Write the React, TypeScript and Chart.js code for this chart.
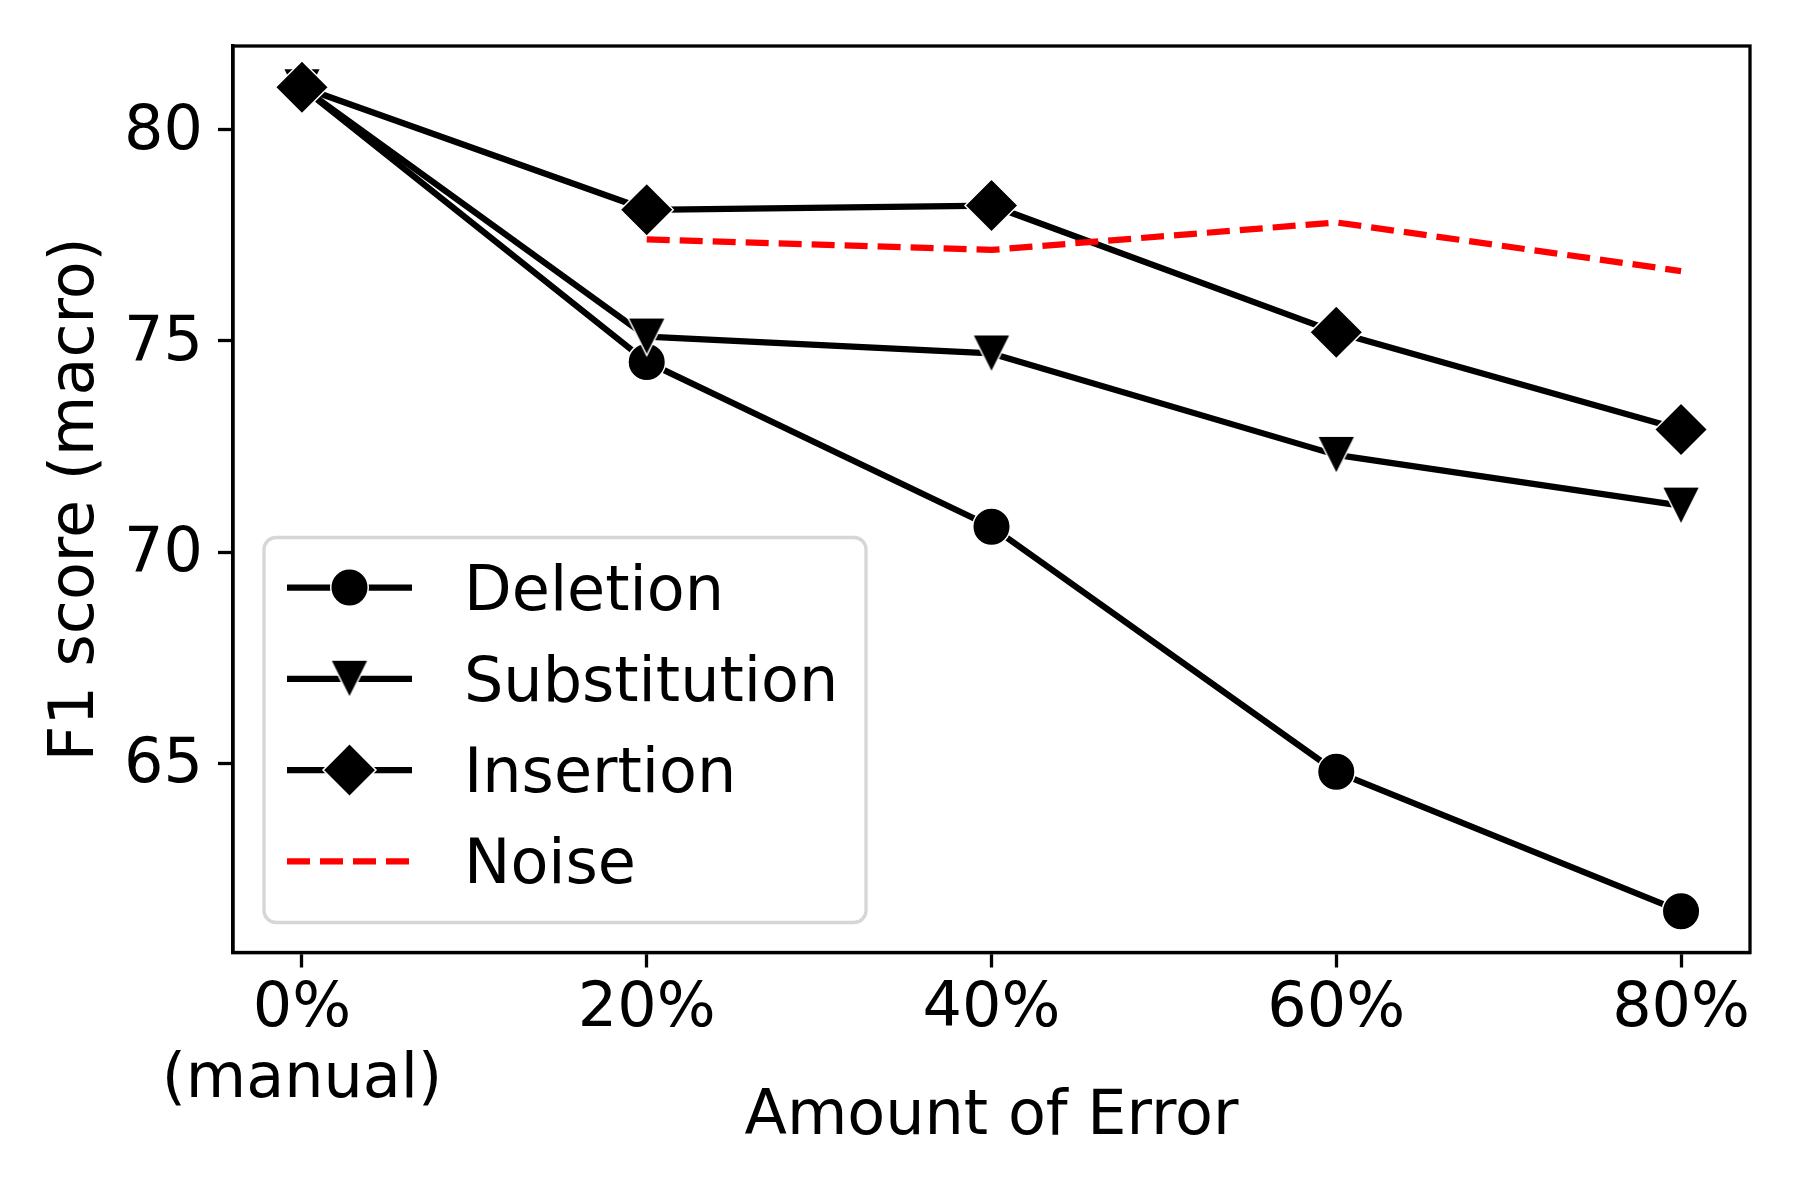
import React, { useEffect, useRef } from "react";
import { Chart, registerables } from "chart.js";
import { drawPoint } from "chart.js/helpers";

Chart.register(...registerables);

const errorLevels = [0, 20, 40, 60, 80];
const xTickLabels: (string | string[])[] = [["0%", "(manual)"], "20%", "40%", "60%", "80%"];
const yTickValues = [65, 70, 75, 80];

const deletion = [81.0, 74.5, 70.6, 64.8, 61.5];
const substitution = [81.0, 75.1, 74.7, 72.3, 71.1];
const insertion = [81.0, 78.1, 78.2, 75.2, 72.9];
const noise = [null, 77.4, 77.15, 77.8, 76.65];

const seriesLabels = ["Deletion", "Substitution", "Insertion", "Noise"];

const FONT = "'DejaVu Sans', sans-serif";
const LINE_W = 6.25;
const MARKER = 37.5;

// matplotlib-ish 5% margins round the data
function padded(values: number[]): { min: number; max: number } {
  const lo = Math.min(...values);
  const hi = Math.max(...values);
  const pad = (hi - lo) * 0.05;
  return { min: lo - pad, max: hi + pad };
}

function makeTriangleDown(size: number, edge: number): HTMLCanvasElement {
  const c = document.createElement("canvas");
  c.width = c.height = Math.ceil(size + 10);
  const ctx = c.getContext("2d")!;
  const m = c.width / 2;
  const h = size / 2;
  ctx.beginPath();
  ctx.moveTo(m - h, m - h);
  ctx.lineTo(m + h, m - h);
  ctx.lineTo(m, m + h);
  ctx.closePath();
  ctx.fillStyle = "#000";
  ctx.fill();
  ctx.lineWidth = edge;
  ctx.lineJoin = "miter";
  ctx.strokeStyle = "#fff";
  ctx.stroke();
  return c;
}

const frameAndLegend = {
  id: "frameAndLegend",
  afterDatasetsDraw(chart: Chart) {
    const { ctx, chartArea: a } = chart;
    ctx.save();
    ctx.strokeStyle = "#000";
    ctx.lineWidth = 3.3;
    ctx.setLineDash([]);
    ctx.strokeRect(a.left, a.top, a.right - a.left, a.bottom - a.top);

    const bw = 602;
    const bh = 385;
    const bx = a.left + 31;
    const by = a.bottom - 30 - bh;
    ctx.beginPath();
    ctx.roundRect(bx, by, bw, bh, 12);
    ctx.fillStyle = "rgba(255,255,255,0.8)";
    ctx.fill();
    ctx.strokeStyle = "rgba(204,204,204,0.8)";
    ctx.lineWidth = 3.3;
    ctx.stroke();

    chart.data.datasets.forEach((ds: any, i: number) => {
      const y = by + 50 + i * 91.3;
      const x0 = bx + 23;
      const x1 = bx + 148;
      ctx.beginPath();
      ctx.setLineDash(ds.borderDash || []);
      ctx.lineWidth = ds.borderWidth;
      ctx.strokeStyle = ds.borderColor;
      ctx.moveTo(x0, y);
      ctx.lineTo(x1, y);
      ctx.stroke();
      ctx.setLineDash([]);
      if (ds.pointRadius > 0) {
        ctx.fillStyle = "#000";
        ctx.strokeStyle = "#fff";
        ctx.lineWidth = ds.pointBorderWidth;
        drawPoint(ctx, { pointStyle: ds.pointStyle, radius: ds.pointRadius, borderWidth: ds.pointBorderWidth, rotation: 0 } as any, (x0 + x1) / 2, y);
      }
      ctx.fillStyle = "#000";
      ctx.font = `62px ${FONT}`;
      ctx.textAlign = "left";
      ctx.textBaseline = "alphabetic";
      ctx.fillText(seriesLabels[i], bx + 200, y + 22);
    });
    ctx.restore();
  },
};

export default function App(): React.ReactElement {
  const canvasRef = useRef<HTMLCanvasElement | null>(null);

  useEffect(() => {
    if (!canvasRef.current) return;
    const ctx = canvasRef.current.getContext("2d");
    if (!ctx) return;

    const triangle = makeTriangleDown(MARKER, 1.5);
    const xr = padded(errorLevels);
    const yr = padded([...deletion, ...substitution, ...insertion, ...(noise.filter((v) => v != null) as number[])]);
    const tickFont = { family: FONT, size: 62, lineHeight: 1.16 };
    const toPoints = (vals: (number | null)[]) => vals.map((v, i) => ({ x: errorLevels[i], y: v }));

    const chart = new Chart(ctx, {
      type: "line",
      data: {
        datasets: [
          {
            label: seriesLabels[0],
            data: toPoints(deletion),
            borderColor: "#000",
            backgroundColor: "#000",
            borderWidth: LINE_W,
            pointStyle: "circle",
            pointRadius: MARKER / 2,
            pointBorderColor: "#fff",
            pointBorderWidth: 1.5,
            order: 3,
          },
          {
            label: seriesLabels[1],
            data: toPoints(substitution),
            borderColor: "#000",
            backgroundColor: "#000",
            borderWidth: LINE_W,
            pointStyle: triangle,
            pointRadius: MARKER / 2,
            pointBorderWidth: 0,
            order: 2,
          },
          {
            label: seriesLabels[2],
            data: toPoints(insertion),
            borderColor: "#000",
            backgroundColor: "#000",
            borderWidth: LINE_W,
            pointStyle: "rectRot",
            pointRadius: (MARKER * Math.SQRT2) / 2,
            pointBorderColor: "#fff",
            pointBorderWidth: 1.5,
            order: 1,
          },
          {
            label: seriesLabels[3],
            data: toPoints(noise),
            borderColor: "#ff0000",
            backgroundColor: "#ff0000",
            borderWidth: LINE_W,
            borderDash: [23, 10],
            pointRadius: 0,
            order: 0,
          },
        ] as any,
      },
      options: {
        responsive: false,
        animation: false,
        parsing: false,
        layout: { padding: { top: 46, right: 50, left: 0, bottom: 0 } },
        elements: { line: { tension: 0, borderJoinStyle: "round" } },
        plugins: { legend: { display: false }, tooltip: { enabled: false } },
        scales: {
          x: {
            type: "linear",
            min: xr.min,
            max: xr.max,
            afterBuildTicks: (s: any) => {
              s.ticks = errorLevels.map((v) => ({ value: v }));
            },
            afterFit: (s: any) => {
              s.height = 247.5;
            },
            ticks: {
              callback: (v: any) => xTickLabels[errorLevels.indexOf(Number(v))] ?? "",
              font: tickFont,
              color: "#000",
              padding: 6,
              autoSkip: false,
              maxRotation: 0,
            },
            grid: { display: true, drawOnChartArea: false, drawTicks: true, tickLength: 15, tickWidth: 3.3, tickColor: "#000" },
            border: { display: true, color: "#000", width: 3.3 },
            title: {
              display: true,
              text: "Amount of Error",
              color: "#000",
              font: { family: FONT, size: 62 },
              padding: { top: 0, bottom: 45 },
            },
          },
          y: {
            type: "linear",
            min: yr.min,
            max: yr.max,
            afterBuildTicks: (s: any) => {
              s.ticks = yTickValues.map((v) => ({ value: v }));
            },
            afterFit: (s: any) => {
              s.width = 233;
            },
            ticks: {
              callback: (v: any) => String(v),
              font: { family: FONT, size: 62, lineHeight: 0.9 },
              color: "#000",
              padding: 15,
              labelOffset: 3,
            },
            grid: { display: true, drawOnChartArea: false, drawTicks: true, tickLength: 15, tickWidth: 3.3, tickColor: "#000" },
            border: { display: true, color: "#000", width: 3.3 },
            title: {
              display: true,
              text: "F1 score (macro)",
              color: "#000",
              font: { family: FONT, size: 62 },
              padding: { top: 40, bottom: 0 },
            },
          },
        },
      },
      plugins: [frameAndLegend],
    });

    return () => {
      chart.destroy();
    };
  }, []);

  return (
    <div style={{ position: "fixed", left: 0, top: 0, width: 1800, height: 1200, background: "#fff" }}>
      <canvas ref={canvasRef} width={1800} height={1200} style={{ display: "block" }} />
    </div>
  );
}
